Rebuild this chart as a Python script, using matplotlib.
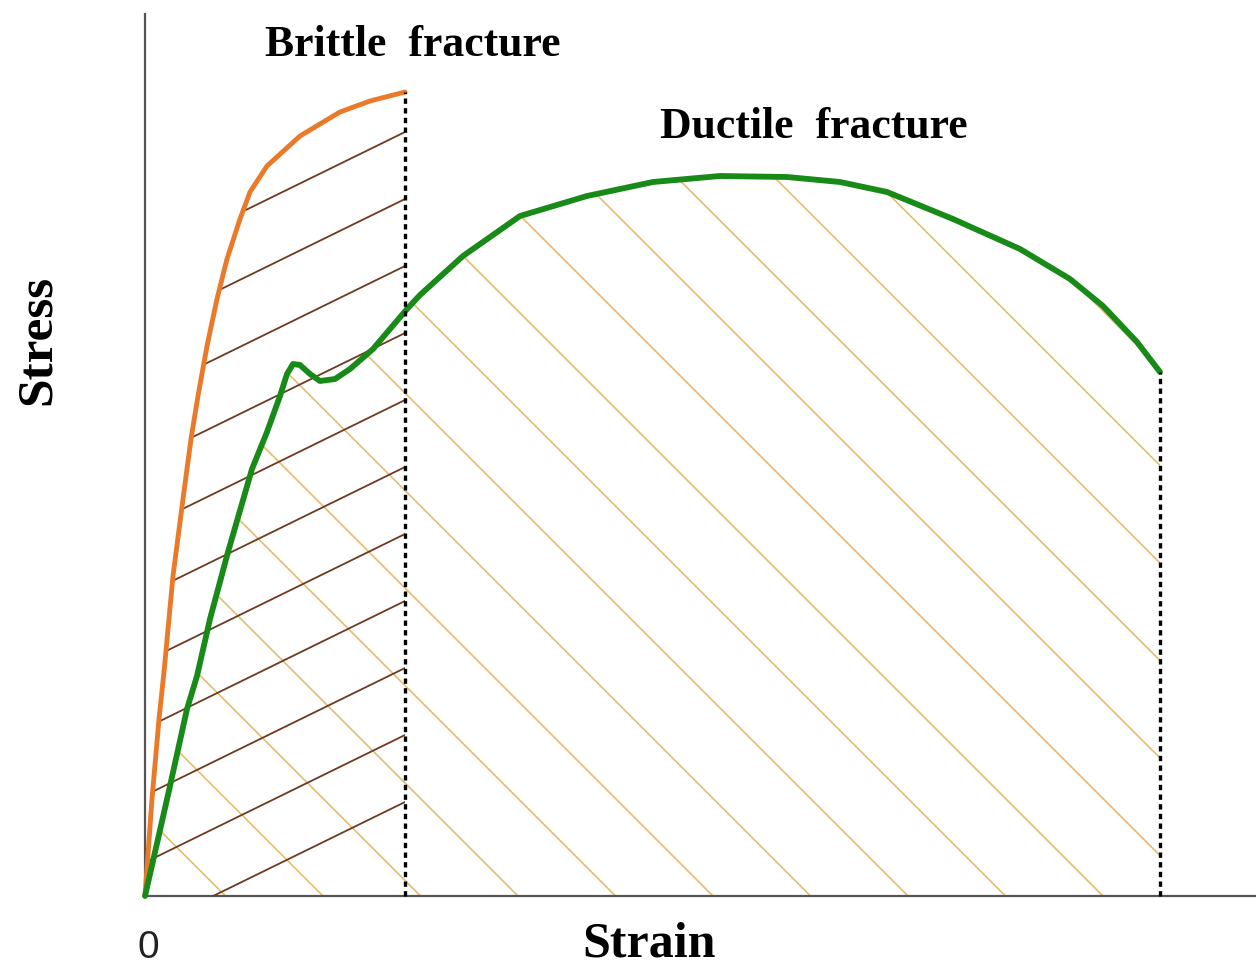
import matplotlib.pyplot as plt
import numpy as np
from matplotlib.patches import Polygon
from matplotlib.collections import LineCollection

# brittle material curve (strain, stress) - arbitrary units
brittle_strain = [0, 0.07, 0.14, 0.19, 0.28, 0.38, 0.46, 0.53, 0.62, 0.72, 0.82, 0.95,
                  1.05, 1.22, 1.55, 1.95, 2.25, 2.60]
brittle_stress = [0, 0.97, 1.77, 2.24, 3.20, 3.97, 4.57, 5.00, 5.50, 5.97, 6.37, 6.77,
                  7.04, 7.30, 7.60, 7.84, 7.95, 8.04]

# ductile material curve
ductile_strain = [0, 0.13, 0.25, 0.42, 0.52, 0.65, 0.83, 1.07, 1.22, 1.35, 1.42, 1.48,
                  1.55, 1.65, 1.75, 1.90, 2.05, 2.28, 2.62, 2.75, 3.18, 3.75, 4.42, 5.08,
                  5.75, 6.42, 6.95, 7.42, 8.08, 8.75, 9.25, 9.58, 9.92, 10.15]
ductile_stress = [0, 0.57, 1.10, 1.87, 2.20, 2.77, 3.44, 4.27, 4.64, 5.00, 5.22, 5.32,
                  5.31, 5.22, 5.15, 5.17, 5.27, 5.47, 5.87, 6.01, 6.40, 6.80, 7.00, 7.14,
                  7.20, 7.19, 7.14, 7.04, 6.77, 6.47, 6.17, 5.90, 5.54, 5.24]

labels = {'brittle': 'Brittle  fracture', 'ductile': 'Ductile  fracture'}

serif = dict(family='Liberation Serif', weight='bold')

fig = plt.figure(figsize=(12.56, 9.70), dpi=100)
ax = fig.add_axes([145 / 1256, 73 / 970, 1111 / 1256, 882 / 970])
ax.set_xlim(0, 11.11)
ax.set_ylim(0, 8.82)
for s in ['top', 'right']:
    ax.spines[s].set_visible(False)
for s in ['left', 'bottom']:
    ax.spines[s].set_color('#555555')
    ax.spines[s].set_linewidth(1.6)
ax.set_xticks([])
ax.set_yticks([])

# regions under each curve, used to clip the hatch lines
bx, by = brittle_strain[-1], brittle_stress[-1]
dx, dy = ductile_strain[-1], ductile_stress[-1]
brittle_poly = Polygon(list(zip(brittle_strain, brittle_stress)) + [(bx, 0)],
                       closed=True, fc='none', ec='none')
ductile_poly = Polygon(list(zip(ductile_strain, ductile_stress)) + [(dx, 0)],
                       closed=True, fc='none', ec='none')
ax.add_patch(brittle_poly)
ax.add_patch(ductile_poly)

# ductile hatch: 45 deg lines going down to the right
xs = np.arange(-12, 22) * 0.975 + 9.58 - 0.975 * 10
segs = [[(x0 - 10, 10), (x0 + 1, -1)] for x0 in xs]
lc = LineCollection(segs, colors='#e4bc70', linewidths=1.2, zorder=2)
ax.add_collection(lc)
lc.set_clip_path(ductile_poly)

# brittle hatch: shallow lines rising to the right
slope = 0.49
y0s = 7.64 - 0.67 * np.arange(-3, 11)
segs = [[(-1, y0 + slope * (-1 - bx)), (bx + 1, y0 + slope)] for y0 in y0s]
lc2 = LineCollection(segs, colors='#6e3a22', linewidths=1.3, zorder=3)
ax.add_collection(lc2)
lc2.set_clip_path(brittle_poly)

# curves
ax.plot(brittle_strain, brittle_stress, color='#ea7a2a', lw=3.5, zorder=5,
        clip_on=False, solid_capstyle='round', solid_joinstyle='round')
ax.plot(ductile_strain, ductile_stress, color='#178a17', lw=4.2, zorder=5,
        clip_on=False, solid_capstyle='round', solid_joinstyle='round')

# fracture markers
ax.plot([bx, bx], [0, by], color='black', lw=2.4, ls=(0, (1.6, 1.3)), zorder=6, clip_on=False)
ax.plot([dx, dx], [0, dy], color='black', lw=2.4, ls=(0, (1.6, 1.3)), zorder=6, clip_on=False)

ax.text(2.68, 8.52, labels['brittle'], ha='center', va='center', fontsize=31.5, **serif)
ax.text(6.69, 7.70, labels['ductile'], ha='center', va='center', fontsize=31.5, **serif)
ax.text(0.03, -0.51, '0', ha='center', va='center', fontsize=28, color='#222222',
        family='Liberation Sans')

ax.set_xlabel('Strain', fontsize=36, va='center', **serif)
ax.xaxis.set_label_coords((649 - 145) / 1111, -(945 - 897) / 882)
ax.set_ylabel('Stress', fontsize=37, va='center', ha='center', **serif)
ax.yaxis.set_label_coords((38 - 145) / 1111, (897 - 340) / 882)

fig.savefig('out.png', dpi=100)
